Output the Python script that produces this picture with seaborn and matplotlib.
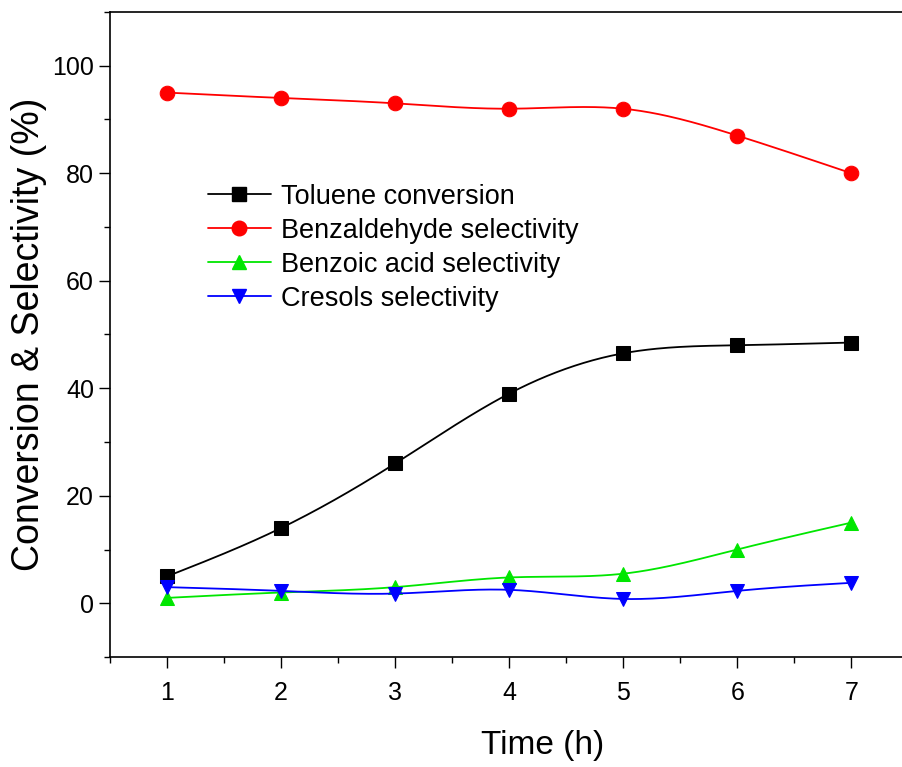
import numpy as np
import pandas as pd
import seaborn as sns
import matplotlib.pyplot as plt
from matplotlib.lines import Line2D
from matplotlib.ticker import MultipleLocator

# Data
time_h = [1, 2, 3, 4, 5, 6, 7]
toluene_conv = [5.0, 14.0, 26.0, 39.0, 46.5, 48.0, 48.5]
benzaldehyde_sel = [95.0, 94.0, 93.0, 92.0, 92.0, 87.0, 80.0]
benzoic_sel = [1.0, 2.0, 3.0, 4.8, 5.5, 10.0, 15.0]
cresols_sel = [3.0, 2.3, 1.8, 2.5, 0.8, 2.3, 3.8]

labels = ['Toluene conversion', 'Benzaldehyde selectivity',
          'Benzoic acid selectivity', 'Cresols selectivity']
series = [toluene_conv, benzaldehyde_sel, benzoic_sel, cresols_sel]
colors = ['#000000', '#FF0000', '#00E600', '#0000FF']
markers = ['s', 'o', '^', 'v']


def spline_curve(x, y, n=300):
    # natural cubic spline through the points, only used to draw the connecting line
    x = np.asarray(x, float)
    y = np.asarray(y, float)
    k = len(x)
    h = np.diff(x)
    A = np.zeros((k, k))
    b = np.zeros(k)
    A[0, 0] = A[-1, -1] = 1
    for i in range(1, k - 1):
        A[i, i - 1] = h[i - 1]
        A[i, i] = 2 * (h[i - 1] + h[i])
        A[i, i + 1] = h[i]
        b[i] = 6 * ((y[i + 1] - y[i]) / h[i] - (y[i] - y[i - 1]) / h[i - 1])
    m = np.linalg.solve(A, b)
    xs = np.linspace(x[0], x[-1], n)
    idx = np.clip(np.searchsorted(x, xs) - 1, 0, k - 2)
    x0, x1 = x[idx], x[idx + 1]
    hh = x1 - x0
    t0 = x1 - xs
    t1 = xs - x0
    ys = (m[idx] * t0 ** 3 + m[idx + 1] * t1 ** 3) / (6 * hh) \
        + (y[idx] / hh - m[idx] * hh / 6) * t0 \
        + (y[idx + 1] / hh - m[idx + 1] * hh / 6) * t1
    return xs, ys


sns.set_style('ticks')
plt.rcParams['font.family'] = ['Liberation Sans', 'DejaVu Sans']
plt.rcParams['text.color'] = 'black'
plt.rcParams['axes.labelcolor'] = 'black'
plt.rcParams['xtick.color'] = 'black'
plt.rcParams['ytick.color'] = 'black'

fig = plt.figure(figsize=(9.02, 7.67), dpi=100)
ax = fig.add_axes([0.122, 0.1434, 0.885, 0.841])

for lab, vals, col, mk in zip(labels, series, colors, markers):
    xs, ys = spline_curve(time_h, vals)
    sns.lineplot(x=xs, y=ys, ax=ax, color=col, linewidth=1.3, sort=False)
    sns.lineplot(x=time_h, y=vals, ax=ax, color=col, marker=mk, markersize=10.5,
                 markeredgecolor=col, linestyle='none', sort=False)

ax.set_xlim(0.5, 7.5)
ax.set_ylim(-10, 110)
ax.xaxis.set_major_locator(MultipleLocator(1))
ax.xaxis.set_minor_locator(MultipleLocator(0.5))
ax.yaxis.set_major_locator(MultipleLocator(20))
ax.yaxis.set_minor_locator(MultipleLocator(10))
ax.set_yticks([0, 20, 40, 60, 80, 100])
ax.set_xticks([1, 2, 3, 4, 5, 6, 7])

ax.tick_params(axis='both', which='major', direction='out', length=8, width=1,
               labelsize=18, color='black', labelcolor='black')
ax.tick_params(axis='x', which='major', pad=9)
ax.tick_params(axis='both', which='minor', direction='out', length=4.5, width=1,
               color='black')
ax.tick_params(top=False, right=False, which='both')

for sp in ax.spines.values():
    sp.set_linewidth(1.2)
    sp.set_color('black')

ax.set_xlabel('Time (h)', fontsize=24, labelpad=14)
ax.xaxis.set_label_coords(0.5425, -0.113)
ax.set_ylabel('Conversion & Selectivity (%)', fontsize=27, labelpad=4)

handles = [Line2D([0], [0], color=c, marker=m, markersize=10.5, linewidth=1.3,
                  markeredgecolor=c) for c, m in zip(colors, markers)]
ax.legend(handles, labels, loc='upper left', bbox_to_anchor=(0.123, 0.734),
          frameon=False, fontsize=19.5, handlelength=2.3, handletextpad=0.37,
          labelspacing=0.3, borderpad=0, borderaxespad=0)

fig.savefig('out.png', dpi=100)
